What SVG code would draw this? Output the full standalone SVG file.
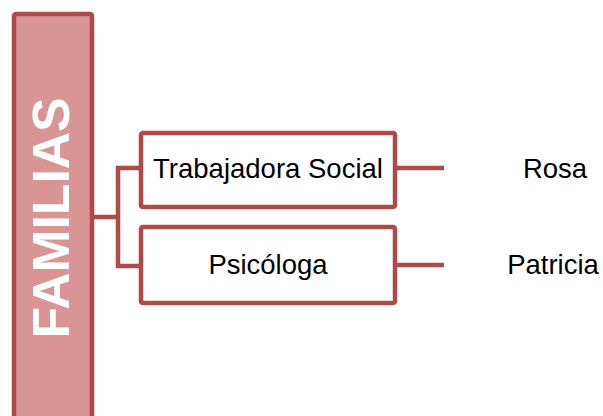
<svg xmlns="http://www.w3.org/2000/svg" width="603" height="416" viewBox="0 0 603 416">
<style>
.box{fill:#ffffff;stroke:#B04A48;stroke-width:4.5;}
.conn{fill:none;stroke:#B04A48;stroke-width:4.5;}
.lbl{font-family:"Liberation Sans",Arial,sans-serif;font-size:27.5px;fill:#000000;text-anchor:middle;}
</style>
<rect width="603" height="416" fill="#ffffff"/>
<g id="connectors">
<path class="conn" d="M92 217 H118" stroke="#9E403E" stroke-width="5"/>
<path class="conn" d="M141 168 H118 V266 H141"/>
<path class="conn" d="M395 168 H444"/>
<path class="conn" d="M395 265 H444"/>
</g>
<g id="familias">
<rect x="14" y="14" width="78" height="420" rx="2" fill="#D99594" stroke="#B04A48" stroke-width="4.5"/>
<text transform="translate(69 218) rotate(-90)" font-family="'Liberation Sans',Arial,sans-serif" font-weight="bold" font-size="52" fill="#ffffff" text-anchor="middle" textLength="241" lengthAdjust="spacingAndGlyphs">FAMILIAS</text>
</g>
<g id="trabajadora">
<rect class="box" x="141" y="133" width="254" height="74" rx="2"/>
<text class="lbl" x="268" y="178">Trabajadora Social</text>
</g>
<g id="psicologa">
<rect class="box" x="141" y="227" width="254" height="76" rx="2"/>
<text class="lbl" x="268" y="274">Psicóloga</text>
</g>
<g id="rosa">
<text class="lbl" x="555" y="178">Rosa</text>
</g>
<g id="patricia">
<text class="lbl" x="553" y="274">Patricia</text>
</g>
</svg>
